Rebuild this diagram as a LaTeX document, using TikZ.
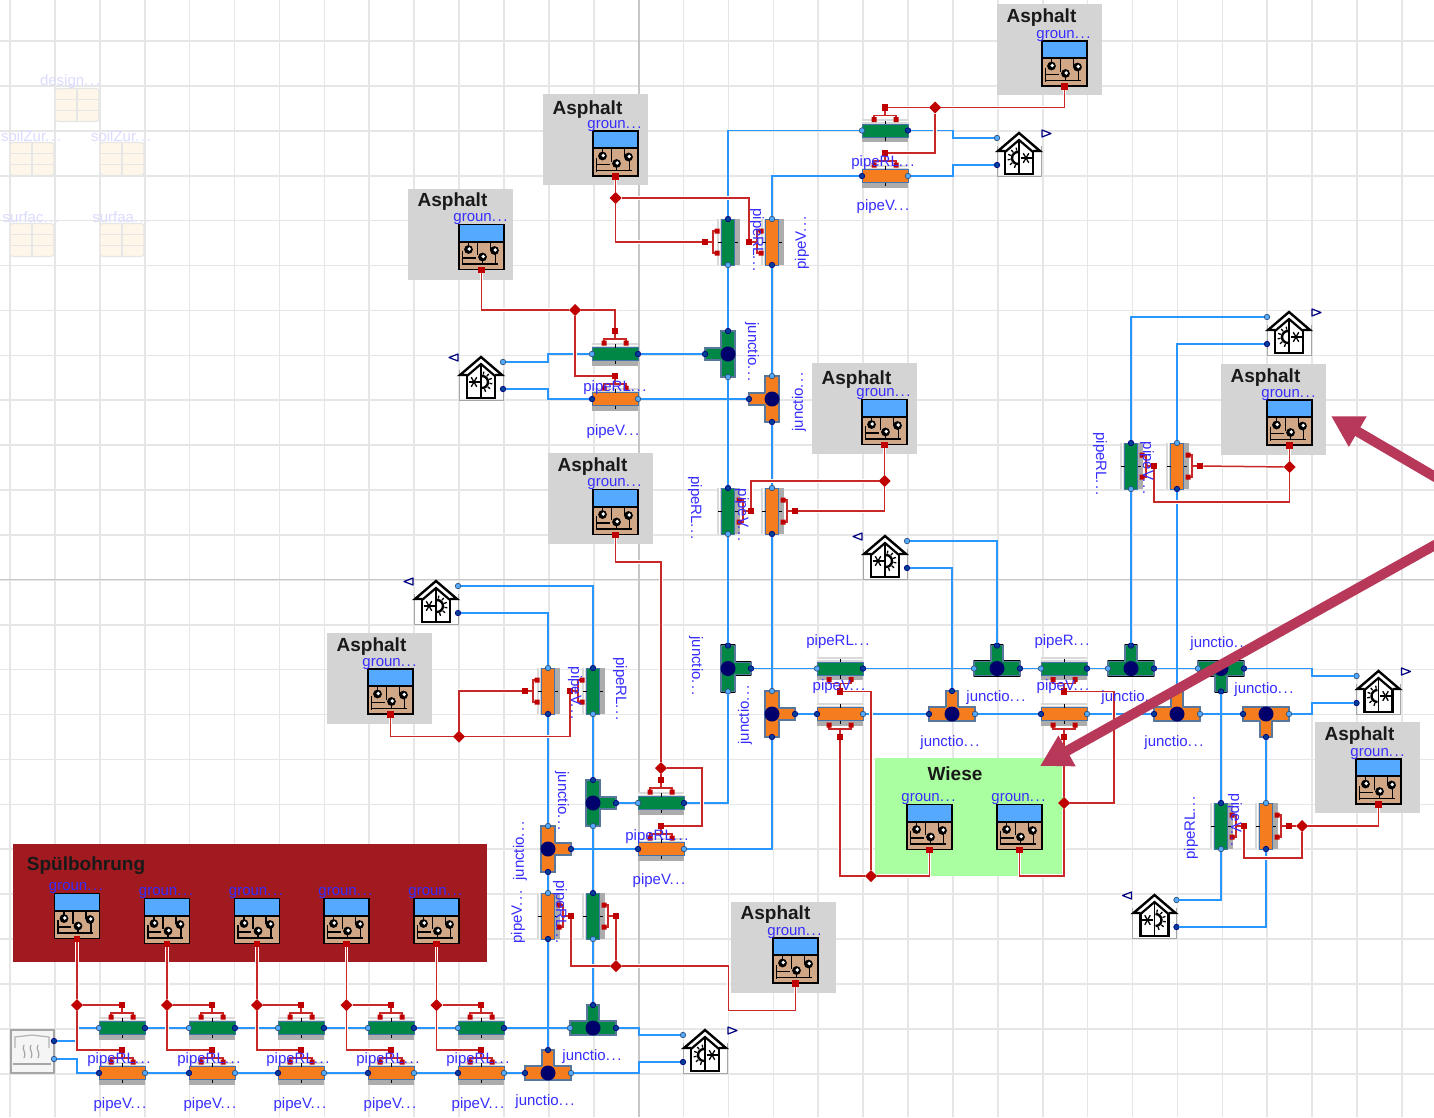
\documentclass[tikz,border=0pt]{standalone}
\usepackage{fontspec}
\setmainfont{Liberation Sans}
\usetikzlibrary{arrows.meta,shapes.geometric}
\definecolor{wireblue}{RGB}{40,150,255}
\definecolor{wirered}{RGB}{200,40,40}
\definecolor{portred}{RGB}{192,0,0}
\definecolor{pipegreen}{RGB}{0,135,70}
\definecolor{pipeorange}{RGB}{245,125,30}
\definecolor{steel}{RGB}{70,115,170}
\definecolor{txtblue}{RGB}{55,45,255}
\definecolor{soiltan}{RGB}{208,168,135}
\definecolor{skyblue}{RGB}{85,170,255}
\definecolor{panelgray}{RGB}{212,212,212}
\definecolor{panelred}{RGB}{160,26,32}
\definecolor{panelgreen}{RGB}{170,255,160}
\definecolor{cream}{RGB}{253,246,233}
\definecolor{gridgray}{RGB}{230,230,230}
\definecolor{pointer}{RGB}{184,56,90}
\colorlet{navy}{blue!50!black}

\newcommand{\dd}{.\kern1.6pt.\kern1.6pt.}
\newcommand{\pRL}{pipeRL\dd}
\newcommand{\pR}{pipeR\dd}
\newcommand{\pV}{pipeV\dd}
\newcommand{\jn}{junctio\dd}

\newcommand{\pipe}[8]{%
  \begin{scope}[shift={(#2,#3)},rotate=#4]
    \fill[gray!30] (-23,-11.5) rectangle (23,-6.5);
    \draw[white,line width=0.7pt] (-23,-9) -- (23,-9);
    \fill[gray!65] (-23,6.5) rectangle (23,11.5);
    \node[pipebody,fill=#6,transform shape] (#1) at (0,0) {};
    \draw[black,line width=1pt] (0,-10) -- (0,-6.5) (0,6.5) -- (0,10);
    \node[#7] (#1-a) at (-23,0) {};
    \node[#8] (#1-b) at (23,0) {};
    \begin{scope}[yscale=#5]
      \draw[wirered,line width=1.2pt] (-11,-10) -- (-11,-15) -- (11,-15) -- (11,-10)
        (0,-15) -- (0,-21);
      \fill[portred] (-13.5,-13.5) rectangle (-8.5,-8.5) (8.5,-13.5) rectangle (13.5,-8.5);
      \node[heatport] (#1-h) at (0,-23) {};
    \end{scope}
  \end{scope}}
\newcommand{\pipeG}[5]{\pipe{#1}{#2}{#3}{#4}{#5}{pipegreen}{portL}{portD}}
\newcommand{\pipeO}[5]{\pipe{#1}{#2}{#3}{#4}{#5}{pipeorange}{portD}{portL}}

\newcommand{\junc}[8]{%
  \begin{scope}[shift={(#2,#3)},rotate=#4]
    \draw[black,line width=2.8pt,line join=round]
      (-23,-7) -- (-6,-7) -- (-6,-23) -- (6,-23) -- (6,-7) -- (23,-7) -- (23,7) -- (-23,7) -- cycle;
    \draw[steel!70!gray,fill=#5,line width=1.5pt,line join=round]
      (-23,-7) -- (-6,-7) -- (-6,-23) -- (6,-23) -- (6,-7) -- (23,-7) -- (23,7) -- (-23,7) -- cycle;
    \node[juncdot] (#1) at (0,0) {};
    \node[#6] (#1-a) at (-23,0) {};
    \node[#7] (#1-b) at (23,0) {};
    \node[#8] (#1-c) at (0,-23) {};
  \end{scope}}

\newcommand{\gnd}[3]{%
  \begin{scope}[shift={(#2,#3)}]
    \node[gndbox] (#1) at (0,0) {};
    \fill[skyblue] (-22,-22) rectangle (22,-6);
    \draw[black,line width=2pt] (-22.5,-5.5) -- (22.5,-5.5);
    \draw[black,line width=1.2pt]
      (-4,-5) -- (-4,8) (9,-5) -- (9,3) (-13,-5) -- (-13,1)
      (-19,4) -- (-19,18) (-19,11) -- (-6,11) (-19,17) -- (16,17) (1,10) -- (1,17) (14,5) -- (14,17);
    \foreach \gx/\gy in {-13/2.5,1/10,13/3.5} {
      \fill[black] (\gx,\gy) circle[radius=4.4pt];
      \fill[white] (\gx+0.8,\gy-0.5) circle[radius=1.9pt];
    }
    \draw[black,line width=1.4pt] (-22.5,-22.5) rectangle (22.5,22.5);
    \node[heatport] (#1-p) at (0,23) {};
    \node[lbl] (#1-l) at (-1,-27.5) {groun\dd};
  \end{scope}}

\newcommand{\asphalt}[6]{%
  \node[panel,fill=panelgray,minimum width=105pt,minimum height=91pt] (#1-bg) at (#2+52.5,#3+45.5) {};
  \node[ttl] (#1-t) at (#2+44.5,#3+#4+2) {Asphalt};
  \gnd{#1}{#5}{#6}}

\newcommand{\house}[4]{%
  \begin{scope}[shift={(#2,#3)}]
    \begin{scope}[xscale=#4]
      \draw[gray!70,line width=1pt] (-22,-8) -- (-22,22) -- (22,22) -- (22,-8);
      \node[hbox] (#1) at (0,0) {};
      \draw[black,line width=2.4pt,line join=miter] (-14,-3) -- (-21,-3) -- (0,-21) -- (21,-3) -- (14,-3);
      \draw[black,line width=2.2pt] (-14,-2) -- (0,-14) -- (14,-2);
      \draw[black,line width=2.6pt] (-14,-3) -- (-14,20) -- (14,20) -- (14,-3);
      \draw[black,line width=1.2pt] (0,-14) -- (0,20);
      \draw[black,line width=2.4pt] (-1,-2) arc[start angle=90,end angle=270,radius=6pt];
      \foreach \ra in {100,130,160,190,220,250} {
        \draw[black,line width=1.3pt] (-1,4) ++(\ra:7.5pt) -- ++(\ra:3pt);
      }
      \foreach \ra in {0,60,120} {
        \draw[black,line width=1.3pt] (7,4) ++(\ra:5.5pt) -- ++(\ra+180:11pt);
      }
      \draw[navy,line width=1.2pt,line join=round] (23,-24) -- (32,-20.5) -- (23,-17) -- cycle;
      \node[portL] (#1-u) at (-22,-16) {};
      \node[portD] (#1-l) at (-22,11) {};
    \end{scope}
  \end{scope}}

\newcommand{\tabl}[6]{%
  \begin{scope}[shift={(#2,#3)}]
    \node[tabbox] (#1) at (0,0) {};
    \draw[gridgray,line width=1.2pt] (0,-16) -- (0,16) (-22,-5.5) -- (22,-5.5) (-22,5.5) -- (22,5.5);
    \node[fadelbl] (#1-l) at (#4,#5) {#6};
  \end{scope}}

\begin{document}
\begin{tikzpicture}[
    x=1pt, y=-1pt,
    every node/.style={inner sep=0pt, outer sep=0pt},
    wire/.style={wireblue, line width=1.5pt},
    heat/.style={wirered, line width=1.5pt, preaction={draw=white, line width=3.8pt}},
    pipebody/.style={rectangle, draw=steel, line width=1pt, minimum width=46pt, minimum height=13pt},
    juncdot/.style={circle, fill=navy!85!black, minimum size=15pt},
    portL/.style={circle, fill=wireblue!80!white, draw=steel!70!black, line width=0.7pt, minimum size=5.5pt},
    portD/.style={circle, fill=blue!45!black!75!cyan, draw=navy, line width=0.7pt, minimum size=5.5pt},
    heatport/.style={rectangle, fill=portred, minimum size=6.5pt},
    diam/.style={diamond, fill=portred, minimum size=12pt},
    gndbox/.style={rectangle, fill=soiltan, minimum size=45pt},
    panel/.style={rectangle},
    hbox/.style={rectangle, minimum size=44pt},
    tabbox/.style={rectangle, draw=gridgray, fill=cream, rounded corners=3pt, line width=1.2pt,
                   minimum width=44pt, minimum height=33pt},
    lbl/.style={text=txtblue, font=\fontsize{15}{15}\selectfont},
    fadelbl/.style={text=blue!14, font=\fontsize{15}{15}\selectfont},
    ttl/.style={text=black!90, font=\fontsize{19}{19}\selectfont\bfseries},
    pointerarr/.style={pointer, line width=10pt, -{Triangle[length=31pt,width=33pt]}},
  ]
  \useasboundingbox (0,0) rectangle (1434,1117);
  \fill[white] (0,0) rectangle (1434,1117);

  % ── Grid ────────────────────────────────────────────────
  \foreach \k in {0,...,31} {
    \draw[gridgray,line width=1.6pt] ({10+44.9*\k},0) -- ({10+44.9*\k},1117);
  }
  \foreach \k in {0,...,23} {
    \draw[gridgray,line width=1.6pt] (0,{41+44.9*\k}) -- (1434,{41+44.9*\k});
  }
  \draw[gray!45,line width=1.6pt] (639,0) -- (639,1117);
  \draw[gray!45,line width=1.6pt] (0,579.5) -- (1434,579.5);

  % ── Faded tables ────────────────────────────────────────
  \tabl{tDesign}{77}{105}{-7}{-23}{design\dd}
  \tabl{tSoilA}{32}{159}{-1}{-23}{soilZur\dd}
  \tabl{tSoilB}{122}{159}{-1}{-23}{soilZur\dd}
  \tabl{tSurfA}{32}{240}{-1}{-23}{surfac\dd}
  \tabl{tSurfB}{122}{240}{-1}{-23}{surfaa\dd}

  % ── Ground groups ───────────────────────────────────────
  \node[panel,fill=panelred,minimum width=474pt,minimum height=118pt] (spBg) at (250,903) {};
  \node[ttl] (spT) at (86,866) {Spülbohrung};
  \gnd{gs1}{77}{916}
  \gnd{gs2}{167}{921}
  \gnd{gs3}{257}{921}
  \gnd{gs4}{346.5}{921}
  \gnd{gs5}{436.5}{921}

  \node[panel,fill=panelgreen,minimum width=189pt,minimum height=118pt] (wsBg) at (969.5,817) {};
  \node[ttl] (wsT) at (955,774) {Wiese};
  \gnd{gw1}{929.5}{827}
  \gnd{gw2}{1019.5}{827}

  \asphalt{g1}{997}{4}{12}{1064.5}{63.5}
  \asphalt{g2}{543}{94}{14}{615.5}{153.5}
  \asphalt{g3}{408}{189}{11}{481.5}{247}
  \asphalt{g4}{812}{363}{15}{884.5}{422}
  \asphalt{g5}{1221}{364}{12}{1289.5}{422.5}
  \asphalt{g6}{548}{453}{12}{615.5}{512}
  \asphalt{g7}{327}{633}{12}{390.5}{691.5}
  \asphalt{g8}{1315}{722}{12}{1378.5}{781.5}
  \asphalt{g9}{731}{902}{11}{795.5}{960.5}

  % ── Houses ──────────────────────────────────────────────
  \house{hA}{1019}{154}{1}
  \house{hB}{481}{378}{-1}
  \house{hC}{1289}{333}{1}
  \house{hD}{885}{557}{-1}
  \house{hE}{436}{602}{-1}
  \house{hF}{1378.5}{692}{1}
  \house{hG}{1154.5}{916}{-1}
  \house{hH}{705}{1051}{1}

  % heat source
  \node[rectangle,draw=gray!70,fill=gray!8,line width=2pt,minimum size=43pt] (ht) at (32,1051) {};
  \draw[gray!60,line width=1.2pt] (15,1048) -- (15,1037) -- (32,1035) -- (49,1037) -- (49,1048);
  \draw[gray!70,line width=1.2pt] (24,1045) .. controls (21,1050) and (27,1051) .. (24,1058)
    (31,1045) .. controls (28,1050) and (34,1051) .. (31,1058)
    (38,1045) .. controls (35,1050) and (41,1051) .. (38,1058);
  \draw[gray!70,line width=2pt] (13,1064) -- (51,1064);
  \node[portD] (ht-u) at (54,1041) {};
  \node[portL] (ht-l) at (54,1059) {};

  % ── Pipes ───────────────────────────────────────────────
  \pipeG{pt1}{885}{130.5}{0}{1}
  \pipeO{pt2}{885}{176}{0}{1}
  \pipeG{pa1}{728}{242}{90}{1}
  \pipeO{pa2}{772}{242}{90}{1}
  \pipeG{pb1}{615}{354}{0}{1}
  \pipeO{pb2}{615}{399}{0}{1}
  \pipeG{pc1}{728}{511}{90}{-1}
  \pipeO{pc2}{772}{511}{90}{-1}
  \pipeO{pd1}{548}{691}{90}{1}
  \pipeG{pd2}{593}{691}{90}{1}
  \pipeG{pe1}{661}{803}{0}{1}
  \pipeO{pe2}{661}{849}{0}{1}
  \pipeO{pf1}{548}{916}{90}{-1}
  \pipeG{pf2}{593}{916}{90}{-1}
  \pipeG{pg1}{840}{668.5}{0}{-1}
  \pipeO{pg2}{840}{714}{0}{-1}
  \pipeG{ph1}{1064}{668.5}{0}{-1}
  \pipeO{ph2}{1064}{714}{0}{-1}
  \pipeG{pi1}{1131}{466}{90}{-1}
  \pipeO{pi2}{1177}{466}{90}{-1}
  \pipeG{pj1}{1221}{826}{90}{-1}
  \pipeO{pj2}{1266}{826}{90}{-1}
  \foreach \i/\px in {1/122,2/212,3/301,4/391,5/481} {
    \pipeG{bg\i}{\px}{1028}{0}{1}
    \pipeO{bo\i}{\px}{1073}{0}{1}
  }

  % ── Junctions ───────────────────────────────────────────
  \junc{jA}{728}{354}{90}{pipegreen}{portL}{portD}{portD}
  \junc{jB}{772}{399}{90}{pipeorange}{portD}{portL}{portD}
  \junc{jC}{728}{668.5}{-90}{pipegreen}{portD}{portL}{portD}
  \junc{jD}{772}{714}{-90}{pipeorange}{portL}{portD}{portD}
  \junc{jE}{593}{803}{-90}{pipegreen}{portD}{portL}{portD}
  \junc{jF}{548}{849}{-90}{pipeorange}{portL}{portD}{portD}
  \junc{jG}{593}{1028}{0}{pipegreen}{portL}{portD}{portD}
  \junc{jH}{548}{1073}{0}{pipeorange}{portD}{portL}{portD}
  \junc{jI}{997}{668.5}{0}{pipegreen}{portL}{portD}{portD}
  \junc{jJ}{952}{714}{0}{pipeorange}{portD}{portL}{portD}
  \junc{jK}{1131}{668.5}{0}{pipegreen}{portL}{portD}{portD}
  \junc{jL}{1177}{714}{0}{pipeorange}{portD}{portL}{portD}
  \junc{jM}{1221}{668.5}{180}{pipegreen}{portD}{portL}{portD}
  \junc{jN}{1266}{714}{180}{pipeorange}{portL}{portD}{portD}

  % ── Fluid connections ───────────────────────────────────
  \draw[wire] (pt1-a) -| (pa1-b);
  \draw[wire] (pt2-a) -| (pa2-b);
  \draw[wire] (pt1-b) -- ++(45,0) |- (hA-u);
  \draw[wire] (pt2-b) -- ++(45,0) |- (hA-l);
  \draw[wire] (pb1-a) -- ++(-44,0) |- (hB-u);
  \draw[wire] (pb2-a) -- ++(-44,0) |- (hB-l);
  \draw[wire] (pb1-b) -- (jA-c);
  \draw[wire] (pb2-b) -- (jB-c);
  \draw[wire] (pa1-a) -- (jA-b);
  \draw[wire] (pa2-a) -- (jB-b);
  \draw[wire] (jA-a) -- (pc1-b);
  \draw[wire] (jB-a) -- (pc2-b);
  \draw[wire] (pc1-a) -- (jC-a);
  \draw[wire] (pc2-a) -- (jD-a);
  \draw[wire] (jC-b) |- (pe1-b);
  \draw[wire] (jD-b) |- (pe2-b);
  \draw[wire] (pe1-a) -- (jE-c);
  \draw[wire] (pe2-a) -- (jF-c);
  \draw[wire] (jE-a) -- (pd2-a);
  \draw[wire] (jF-a) -- (pd1-a);
  \draw[wire] (pd1-b) |- (hE-l);
  \draw[wire] (pd2-b) |- (hE-u);
  \draw[wire] (jE-b) -- (pf2-b);
  \draw[wire] (jF-b) -- (pf1-b);
  \draw[wire] (pf1-a) -- (jH-c);
  \draw[wire] (pf2-a) -- (jG-c);
  \draw[wire] (bg5-b) -- (jG-a);
  \draw[wire] (bo5-b) -- (jH-a);
  \draw[wire] (jG-b) -- ++(23,0) |- (hH-u);
  \draw[wire] (jH-b) -- ++(68,0) |- (hH-l);
  \draw[wire] (ht-u) -- ++(23,0) |- (bg1-a);
  \draw[wire] (ht-l) -- ++(23,0) |- (bo1-a);
  \foreach \i/\j in {1/2,2/3,3/4,4/5} {
    \draw[wire] (bg\i-b) -- (bg\j-a);
    \draw[wire] (bo\i-b) -- (bo\j-a);
  }
  \draw[wire] (jC-c) -- (pg1-a);
  \draw[wire] (jD-c) -- (pg2-a);
  \draw[wire] (pg1-b) -- (jI-a);
  \draw[wire] (pg2-b) -- (jJ-a);
  \draw[wire] (jI-b) -- (ph1-a);
  \draw[wire] (jJ-b) -- (ph2-a);
  \draw[wire] (ph1-b) -- (jK-a);
  \draw[wire] (ph2-b) -- (jL-a);
  \draw[wire] (jK-b) -- (jM-b);
  \draw[wire] (jL-b) -- (jN-b);
  \draw[wire] (jM-a) -- ++(68,0) |- (hF-u);
  \draw[wire] (jN-a) -- ++(23,0) |- (hF-l);
  \draw[wire] (jI-c) |- (hD-u);
  \draw[wire] (jJ-c) |- (hD-l);
  \draw[wire] (jK-c) -- (pi1-a);
  \draw[wire] (jL-c) -- (pi2-a);
  \draw[wire] (pi1-b) |- (hC-u);
  \draw[wire] (pi2-b) |- (hC-l);
  \draw[wire] (jM-c) -- (pj1-b);
  \draw[wire] (jN-c) -- (pj2-b);
  \draw[wire] (pj1-a) |- (hG-u);
  \draw[wire] (pj2-a) |- (hG-l);

  % ── Heat connections ────────────────────────────────────
  \node[diam] (dA) at (935,107.5) {};
  \node[diam] (dB) at (615.5,198) {};
  \node[diam] (dC) at (575,310) {};
  \node[diam] (dD) at (884.5,481) {};
  \node[diam] (dE) at (1289.5,467) {};
  \node[diam] (dF) at (661,768) {};
  \node[diam] (dG) at (459,736.5) {};
  \node[diam] (dH) at (1302,826) {};
  \node[diam] (dI) at (616,966) {};
  \node[diam] (dJ) at (871,876) {};
  \node[diam] (dK) at (1064,803) {};

  \draw[heat] (g1-p) |- (dA);
  \draw[heat] (dA) -- (pt1-h);
  \draw[heat] (dA) |- (pt2-h);
  \draw[heat] (g2-p) -- (dB);
  \draw[heat] (dB) -| (pa2-h);
  \draw[heat] (dB) |- (pa1-h);
  \draw[heat] (g3-p) |- (dC);
  \draw[heat] (dC) -| (pb1-h);
  \draw[heat] (dC) |- (pb2-h);
  \draw[heat] (g4-p) -- (dD);
  \draw[heat] (dD) -| (pc1-h);
  \draw[heat] (dD) |- (pc2-h);
  \draw[heat] (g5-p) -- (dE);
  \draw[heat] (dE) -- (pi2-h);
  \draw[heat] (dE) -- ++(0,35) -| (pi1-h);
  \draw[heat] (g6-p) -- ++(0,27) -| (dF);
  \draw[heat] (dF) -- (pe1-h);
  \draw[heat] (dF) -- ++(41,0) |- (pe2-h);
  \draw[heat] (g7-p) |- (dG);
  \draw[heat] (dG) |- (pd1-h);
  \draw[heat] (dG) -| (pd2-h);
  \draw[heat] (g8-p) |- (dH);
  \draw[heat] (dH) -- (pj2-h);
  \draw[heat] (dH) -- ++(0,32) -| (pj1-h);
  \draw[heat] (g9-p) -- ++(0,27) -- ++(-67,0) |- (dI);
  \draw[heat] (dI) -- (pf2-h);
  \draw[heat] (dI) -| (pf1-h);
  \draw[heat] (gw1-p) |- (dJ);
  \draw[heat] (dJ) -| (pg2-h);
  \draw[heat] (dJ) |- (pg1-h);
  \draw[heat] (gw2-p) -- ++(0,26) -| (dK);
  \draw[heat] (dK) -- (ph2-h);
  \draw[heat] (dK) -- ++(50,0) |- (ph1-h);
  \foreach \i/\dx in {1/77,2/167,3/257,4/346.5,5/436.5} {
    \node[diam] (ds\i) at (\dx,1005) {};
    \draw[heat] (gs\i-p) -- (ds\i);
    \draw[heat] (ds\i) -- (bg\i-h);
    \draw[heat] (ds\i) |- (bo\i-h);
  }

  % ── Labels ──────────────────────────────────────────────
  \foreach \nm/\lx/\ly/\rt/\tx in {
      lt1/883/163/0/\pRL, lt2/883/207/0/\pV,
      la1/757/240/-90/\pRL, la2/802/243/90/\pV,
      lb1/615/388/0/\pRL, lb2/613/432/0/\pV,
      lc1/695/508/-90/\pRL, lc2/742/515/-90/\pV,
      ld1/575/693/-90/\pV, ld2/620/689/-90/\pRL,
      le1/657/837/0/\pRL, le2/659/881/0/\pV,
      lf1/518/917/90/\pV, lf2/560/912/-90/\pRL,
      lg1/838/642/0/\pRL, lg2/839/687/0/\pV,
      lh1/1062/642/0/\pR, lh2/1063/687/0/\pV,
      li1/1100/464/-90/\pRL, li2/1147/468/-90/\pV,
      lj1/1191/828/90/\pRL, lj2/1235/820/-90/\pV,
      ljA/752/352/-90/\jn, ljB/799/402/90/\jn,
      ljC/696/666/-90/\jn, ljD/745/715/90/\jn,
      ljE/562/801/-90/\jn, ljF/520/851/90/\jn,
      ljG/592/1057/0/\jn, ljH/545/1102/0/\jn,
      ljI/996/698/0/\jn, ljJ/950/743/0/\jn,
      ljK/1131/698/0/\jn, ljL/1174/743/0/\jn,
      ljM/1220/644/0/\jn, ljN/1264/690/0/\jn} {
    \node[lbl,rotate=\rt] (\nm) at (\lx,\ly) {\tx};
  }
  \foreach \i/\ax/\bx in {1/119/120,2/209/210,3/298/300,4/388/390,5/478/478} {
    \node[lbl] (lbg\i) at (\ax,1060) {\pRL};
    \node[lbl] (lbo\i) at (\bx,1105) {\pV};
  }

  % ── Pointers ────────────────────────────────────────────
  \coordinate (markA) at (1460,491.5);
  \coordinate (markATip) at (1331,416);
  \coordinate (markB) at (1460,531);
  \coordinate (markBTip) at (1040,766);
  \draw[pointerarr] (markA) -- (markATip);
  \draw[pointerarr] (markB) -- (markBTip);
\end{tikzpicture}
\end{document}
